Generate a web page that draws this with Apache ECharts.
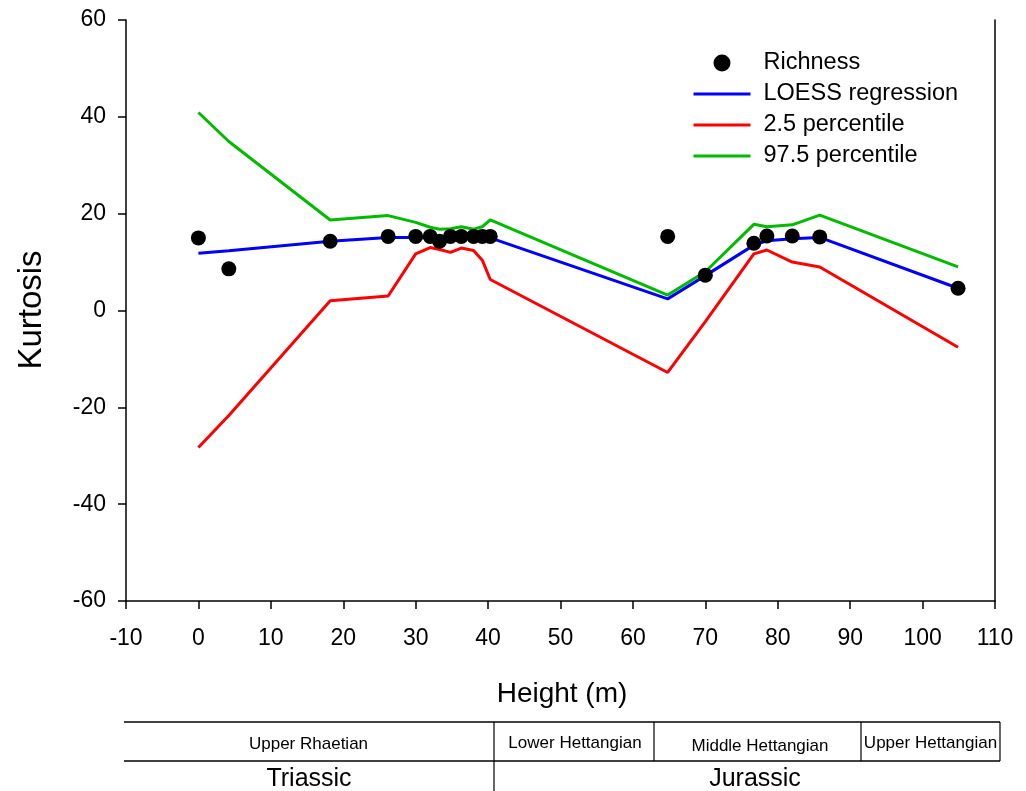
<!DOCTYPE html>
<html>
<head>
<meta charset="utf-8">
<script src="https://cdn.jsdelivr.net/npm/echarts@6/dist/echarts.min.js"></script>
<style>
html,body{margin:0;padding:0;background:#fff;}
#chart{width:1026px;height:791px;}
</style>
</head>
<body>
<div id="chart"></div>
<script>
// ---- data ----
const heights  = [0, 4.2, 18.2, 26.2, 30, 32, 33.3, 34.8, 36.3, 38, 39.2, 40.3, 64.8, 70, 76.7, 78.5, 82, 85.8, 104.9];
const richness = [15.0, 8.6, 14.3, 15.3, 15.3, 15.3, 14.3, 15.3, 15.3, 15.3, 15.3, 15.3, 15.3, 7.3, 13.9, 15.4, 15.4, 15.2, 4.6];
const loess    = [11.8, 12.35, 14.3, 15.1, 15.1, 15.0, 14.8, 14.8, 14.9, 15.0, 15.0, 15.0, 2.4, 7.2, 13.5, 14.4, 14.8, 15.1, 4.6];
const pct975   = [40.9, 34.9, 18.7, 19.6, 18.2, 17.2, 16.8, 16.9, 17.3, 16.8, 17.3, 18.7, 3.2, 8.0, 17.8, 17.3, 17.7, 19.7, 9.0];
const pct25    = [-28.3, -21.7, 2.0, 3.0, 11.7, 13.0, 12.6, 12.0, 12.9, 12.4, 10.4, 6.4, -12.8, -2.3, 11.7, 12.5, 10.0, 9.0, -7.6];
const seriesNames = ['Richness', 'LOESS regression', '2.5 percentile', '97.5 percentile'];
const stageLabels = ['Upper Rhaetian', 'Lower Hettangian', 'Middle Hettangian', 'Upper Hettangian'];
const periodLabels = ['Triassic', 'Jurassic'];
const xTitle = 'Height (m)';
const yTitle = 'Kurtosis';

const pair = (ys) => heights.map((h, i) => [h, ys[i]]);
const FONT = '"Liberation Sans", Arial, sans-serif';

const chart = echarts.init(document.getElementById('chart'), null, {renderer: 'canvas'});

// table layout (pixels)
const tblLeft = 124, tblRight = 1000, tblTop = 722, tblMid = 761, tblBot = 791;
const stageCenters = [[308.5, 744], [575, 743], [760, 746], [930.5, 743]];
const periodCenters = [[309, 779], [755, 779]];

const graphics = [];
graphics.push({type:'line', shape:{x1:tblLeft, y1:tblTop, x2:tblRight, y2:tblTop}, style:{stroke:'#000', lineWidth:1.5}});
graphics.push({type:'line', shape:{x1:tblLeft, y1:tblMid, x2:tblRight, y2:tblMid}, style:{stroke:'#000', lineWidth:1.5}});
graphics.push({type:'line', shape:{x1:494, y1:tblTop, x2:494, y2:tblBot}, style:{stroke:'#000', lineWidth:1.2}});
[654, 861, tblRight].forEach(x => graphics.push({type:'line', shape:{x1:x, y1:tblTop, x2:x, y2:tblMid}, style:{stroke:'#000', lineWidth:1.2}}));
stageLabels.forEach((t, i) => {
  graphics.push({type:'text', x:stageCenters[i][0], y:stageCenters[i][1],
    style:{text:t, font:'17px ' + FONT, fill:'#000', textAlign:'center', textVerticalAlign:'middle'}});
});
periodLabels.forEach((t, i) => {
  graphics.push({type:'text', x:periodCenters[i][0], y:periodCenters[i][1],
    style:{text:t, font:'25px ' + FONT, fill:'#000', textAlign:'center', textVerticalAlign:'middle'}});
});
graphics.push({type:'text', x:562, y:694, style:{text:xTitle, font:'28px ' + FONT, fill:'#000', textAlign:'center', textVerticalAlign:'middle'}});
graphics.push({type:'text', x:32, y:310, rotation:Math.PI/2, style:{text:yTitle, font:'33px ' + FONT, fill:'#000', textAlign:'center', textVerticalAlign:'middle'}});

const noSymbol = {color:'rgba(0,0,0,0)', borderColor:'rgba(0,0,0,0)', borderWidth:0};

const option = {
  backgroundColor: '#fff',
  animation: false,
  textStyle: {fontFamily: FONT},
  grid: {left:126, right:31, top:20, bottom:190, containLabel:false},
  legend: {
    orient: 'vertical', left: 692, top: 51, padding: 0,
    itemWidth: 57, itemHeight: 17, itemGap: 7,
    data: [
      {name: seriesNames[0]},
      {name: seriesNames[1], itemStyle: noSymbol, lineStyle: {width: 3, color: '#0000ff'}},
      {name: seriesNames[2], itemStyle: noSymbol, lineStyle: {width: 3, color: '#ff0000'}},
      {name: seriesNames[3], itemStyle: noSymbol, lineStyle: {width: 3, color: '#00bb00'}}
    ],
    textStyle: {fontSize: 23.5, color: '#000', fontFamily: FONT, lineHeight: 24, padding: [0,0,0,8]}
  },
  xAxis: {
    type: 'value', min: -10, max: 110, interval: 10,
    axisLine: {show: true, onZero: false, lineStyle: {color: '#000', width: 1.5}},
    axisTick: {show: true, inside: false, length: 8, lineStyle: {color: '#000', width: 1.5}},
    axisLabel: {fontSize: 23, color: '#000', margin: 26, fontFamily: FONT},
    splitLine: {show: false}
  },
  yAxis: [{
    type: 'value', min: -60, max: 60, interval: 20,
    axisLine: {show: true, onZero: false, lineStyle: {color: '#000', width: 1.5}},
    axisTick: {show: true, inside: false, length: 8, lineStyle: {color: '#000', width: 1.5}},
    axisLabel: {fontSize: 23, color: '#000', margin: 20, fontFamily: FONT},
    splitLine: {show: false}
  }, {
    type: 'value', min: -60, max: 60, interval: 20, position: 'right',
    axisLine: {show: true, onZero: false, lineStyle: {color: '#000', width: 1.5}},
    axisTick: {show: false}, axisLabel: {show: false}, splitLine: {show: false}
  }],
  series: [
    {name: seriesNames[1], type: 'line', data: pair(loess), symbol: 'none', z: 3,
     lineStyle: {color: '#0000ff', width: 3}, itemStyle: {color: '#0000ff'}},
    {name: seriesNames[2], type: 'line', data: pair(pct25), symbol: 'none', z: 3,
     lineStyle: {color: '#ff0000', width: 3}, itemStyle: {color: '#ff0000'}},
    {name: seriesNames[3], type: 'line', data: pair(pct975), symbol: 'none', z: 3,
     lineStyle: {color: '#00bb00', width: 3}, itemStyle: {color: '#00bb00'}},
    {name: seriesNames[0], type: 'scatter', data: pair(richness), symbol: 'circle', symbolSize: 15, z: 4,
     itemStyle: {color: '#000', opacity: 1}}
  ],
  graphic: graphics
};
chart.setOption(option);
</script>
</body>
</html>
